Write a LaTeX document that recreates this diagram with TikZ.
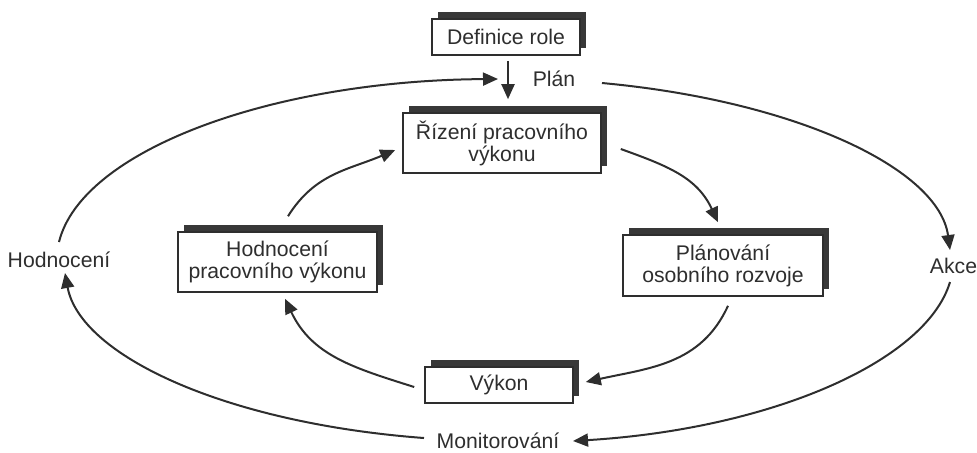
\documentclass[tikz,border=0pt]{standalone}
\usepackage{fontspec}
\setmainfont{Liberation Sans}
\usetikzlibrary{arrows.meta,shadows,calc}
\colorlet{ink}{black!82}
\tikzset{
  box/.style={draw=ink, line width=0.8pt, fill=white, text=ink, align=center,
    inner sep=0pt, font=\fontsize{10.6}{11}\selectfont,
    drop shadow={shadow xshift=3pt, shadow yshift=3.5pt, opacity=1, fill=black!78, draw=none}},
  lbl/.style={text=ink, inner sep=0pt, font=\fontsize{10.6}{11}\selectfont},
  arr/.style={draw=ink, line width=1pt, -{Triangle[length=7.5pt,width=6.5pt]}}
}
\begin{document}
\begin{tikzpicture}[x=0.5pt,y=-0.5pt]
\useasboundingbox (0,0) rectangle (977,452);
% boxes
\node[box, minimum width=74pt, minimum height=18pt] (def) at (506,37) {Definice role};
\node[box, minimum width=99pt, minimum height=30pt] (riz) at (502,143) {Řízení pracovního\\výkonu};
\node[box, minimum width=99.5pt, minimum height=30pt] (hpv) at (277.5,262) {Hodnocení\\pracovního výkonu};
\node[box, minimum width=100pt, minimum height=30.5pt] (plo) at (723,265.5) {Plánování\\osobního rozvoje};
\node[box, minimum width=74pt, minimum height=18pt] (vyk) at (499,385) {Výkon};
% labels
\node[lbl] (plan) at (554,79) {Plán};
\node[lbl] (hod) at (59,260) {Hodnocení};
\node[lbl] (akce) at (953.5,266) {Akce};
\node[lbl] (mon) at (498,441) {Monitorování};
% definice -> rizeni
\draw[arr, shorten <=2.5pt, shorten >=6.5pt] ($(def.south)+(2,0)$) -- ($(riz.north)+(6,0)$);
% outer cycle
\draw[arr] ($(hod)+(0,-18)$) .. controls +(22.5,-91.5) and +(-226.5,1.4) .. ($(plan)+(-56,0)$);
\draw[arr] ($(plan)+(48,4)$) .. controls +(195,18) and +(-11,-81) .. ($(akce)+(-3.5,-16)$);
\draw[arr] ($(akce)+(-3.5,16)$) .. controls +(-24,80) and +(197,-12) .. ($(mon)+(75,0)$);
\draw[arr] ($(mon)+(-74,-3)$) .. controls +(-200,-15) and +(15,82) .. ($(hod)+(6,13)$);
% inner cycle
\draw[arr] ($(riz.east)+(19,6)$) .. controls +(47,17) and +(-21,-45) .. ($(plo.north)+(-5,-12)$);
\draw[arr] ($(plo.south)+(5,9)$) .. controls +(-27,59) and +(63,-14) .. ($(vyk.east)+(12,-3)$);
\draw[arr] ($(vyk.west)+(-10,2)$) .. controls +(-60,-19) and +(27,57) .. ($(hpv.south)+(7.5,6)$);
\draw[arr] ($(hpv.north)+(10.5,-15)$) .. controls +(27,-43) and +(-47,20) .. ($(riz.west)+(-7,7)$);
\end{tikzpicture}
\end{document}
